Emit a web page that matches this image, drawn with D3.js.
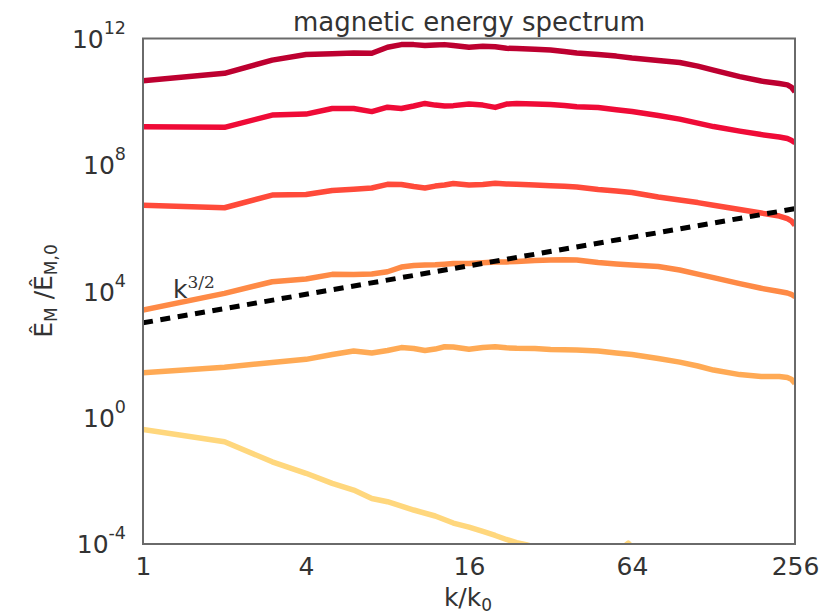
<!DOCTYPE html>
<html>
<head>
<meta charset="utf-8">
<script src="https://cdn.jsdelivr.net/npm/d3@7"></script>
<style>
  body { margin: 0; background: #fff; }
  text { font-family: "DejaVu Sans", sans-serif; fill: #333; }
</style>
</head>
<body>
<svg id="chart" width="839" height="614"></svg>
<script>
// Wavenumbers k/k0 sampled for the first five spectra
const kValues = [1, 2, 3, 4, 5, 6, 7, 8, 9, 10, 11, 12, 13, 14, 16, 18, 20, 22, 24, 28, 32, 36,
                 40, 48, 56, 64, 80, 96, 112, 128, 160, 192, 224, 240, 248, 256];

// Normalised magnetic energy spectra, latest time first
const spectrum1 = [4.6e10, 7.9e10, 2.07e11, 3.1e11, 3.3e11, 3.45e11, 3.4e11, 5.3e11, 6.4e11, 6.4e11,
                   6.0e11, 6.2e11, 6.4e11, 6.0e11, 5.3e11, 5.7e11, 5.5e11, 4.9e11, 4.8e11, 4.6e11,
                   4.3e11, 3.9e11, 3.5e11, 3.1e11, 2.77e11, 2.4e11, 2.0e11, 1.73e11, 1.34e11, 1.0e11,
                   6.2e10, 4.5e10, 3.74e10, 3.4e10, 2.9e10, 2.06e10];
const spectrum2 = [1.61e9, 1.54e9, 3.77e9, 4.05e9, 6.1e9, 6.1e9, 4.86e9, 6.7e9, 6.1e9, 7.3e9,
                   8.8e9, 7.8e9, 7.3e9, 7.5e9, 8.4e9, 7.8e9, 6.6e9, 8.4e9, 8.7e9, 8.4e9,
                   8.1e9, 7.6e9, 6.9e9, 6.5e9, 5.6e9, 4.86e9, 3.63e9, 2.81e9, 2.1e9, 1.63e9,
                   1.17e9, 9.1e8, 7.6e8, 6.8e8, 6.0e8, 5.0e8];
const spectrum3 = [5.3e6, 4.4e6, 1.11e7, 1.16e7, 1.54e7, 1.68e7, 1.85e7, 2.42e7, 2.4e7, 2.06e7,
                   1.85e7, 2.13e7, 2.3e7, 2.56e7, 2.3e7, 2.4e7, 2.6e7, 2.5e7, 2.42e7, 2.3e7,
                   2.18e7, 2.1e7, 1.98e7, 1.65e7, 1.48e7, 1.33e7, 9.6e6, 7.7e6, 6.4e6, 5.3e6,
                   3.85e6, 2.99e6, 2.4e6, 2.0e6, 1.7e6, 1.24e6];
const spectrum4 = [2540, 8600, 2.0e4, 2.43e4, 3.43e4, 3.4e4, 3.5e4, 4.14e4, 5.83e4, 6.5e4,
                   6.75e4, 6.9e4, 7.2e4, 7.5e4, 7.5e4, 8.0e4, 8.4e4, 8.5e4, 8.7e4, 9.4e4,
                   9.7e4, 1.0e5, 9.7e4, 8.1e4, 7.3e4, 6.75e4, 6.05e4, 4.69e4, 3.5e4, 2.71e4,
                   1.75e4, 1.24e4, 9.8e3, 8.8e3, 8.0e3, 6.7e3];
const spectrum5 = [26.4, 39, 56, 70, 99, 128, 111, 133, 165, 154,
                   133, 148, 175, 172, 145, 165, 175, 162, 156, 154,
                   143, 140, 138, 128, 111, 99, 74, 57, 43, 32,
                   23, 20, 20, 18.6, 16.5, 12.2];

// Initial spectrum, sampled separately
const kInitial = [1, 2, 3, 4, 5, 6, 7, 8, 10, 12, 14, 16, 18, 20, 22, 24, 26, 28, 32, 40,
                  48, 56, 60, 62, 64, 72, 96, 128, 192, 256];
const spectrum6 = [0.42, 0.173, 0.040, 0.0173, 0.0083, 0.0051, 0.00275, 0.00218, 0.00119, 7.7e-4,
                   4.6e-4, 3.4e-4, 2.49e-4, 1.86e-4, 1.39e-4, 1.11e-4, 9.5e-5, 8e-5, 6e-5, 5e-5,
                   5e-5, 6e-5, 8.5e-5, 1.06e-4, 8e-5, 4e-5, 2e-5, 1e-5, 5e-6, 2e-6];

const seriesColors = ["#bd0030", "#ef0b37", "#ff4a3a", "#fe8a46", "#ffaa55", "#ffd77d"];

// Power-law reference k^{3/2}
const kRef = [1, 256];
const eRef = [1.0e3, 4.1e6];

// Axis ticks
const kTicks = [1, 4, 16, 64, 256];
const eTicks = [1e12, 1e8, 1e4, 1e0, 1e-4];
const eTickExponents = ["12", "8", "4", "0", "-4"];

const svg = d3.select("#chart");
const plotLeft = 143, plotRight = 795, plotTop = 38.5, plotBottom = 544;

const x = d3.scaleLog().base(2).domain([1, 256]).range([plotLeft, plotRight]);
const y = d3.scaleLog().domain([1e-4, 1e12]).range([plotBottom, plotTop]);

svg.append("defs").append("clipPath").attr("id", "plot-clip")
  .append("rect").attr("x", plotLeft).attr("y", plotTop)
  .attr("width", plotRight - plotLeft).attr("height", plotBottom - plotTop);

const plot = svg.append("g").attr("clip-path", "url(#plot-clip)");

const line = d3.line().x(d => x(d[0])).y(d => y(d[1]));

const allSeries = [
  { k: kValues, e: spectrum1 },
  { k: kValues, e: spectrum2 },
  { k: kValues, e: spectrum3 },
  { k: kValues, e: spectrum4 },
  { k: kValues, e: spectrum5 },
  { k: kInitial, e: spectrum6 }
];

allSeries.forEach((s, i) => {
  plot.append("path")
    .datum(s.k.map((k, j) => [k, s.e[j]]))
    .attr("d", line)
    .attr("fill", "none")
    .attr("stroke", seriesColors[i])
    .attr("stroke-width", 5.5)
    .attr("stroke-linejoin", "round");
});

plot.append("path")
  .datum(kRef.map((k, j) => [k, eRef[j]]))
  .attr("d", line)
  .attr("fill", "none")
  .attr("stroke", "#000")
  .attr("stroke-width", 5)
  .attr("stroke-dasharray", "10,7.6");

// Frame
svg.append("rect")
  .attr("x", plotLeft).attr("y", plotTop)
  .attr("width", plotRight - plotLeft).attr("height", plotBottom - plotTop)
  .attr("fill", "none").attr("stroke", "#6a6a6a").attr("stroke-width", 2);

// x axis
const xAxis = svg.append("g")
  .attr("transform", `translate(0,${plotBottom})`)
  .call(d3.axisBottom(x).tickValues(kTicks).tickFormat(d3.format("d")).tickSize(0).tickPadding(13));
xAxis.select(".domain").remove();
xAxis.selectAll("text").attr("font-size", 25).attr("fill", "#333")
  .attr("font-family", "DejaVu Sans, sans-serif");

// y axis with power-of-ten labels
const yAxis = svg.append("g")
  .attr("transform", `translate(${plotLeft},0)`)
  .call(d3.axisLeft(y).tickValues(eTicks).tickSize(0).tickPadding(17));
yAxis.select(".domain").remove();
yAxis.selectAll("text").each(function(d, i) {
  const t = d3.select(this);
  t.text(null).attr("font-size", 25).attr("fill", "#333").attr("dy", "0.35em")
    .attr("font-family", "DejaVu Sans, sans-serif");
  t.append("tspan").text("10");
  t.append("tspan").attr("font-size", 17.5).attr("dy", -14).text(eTickExponents[i]);
});

// Title
svg.append("text")
  .attr("x", (plotLeft + plotRight) / 2).attr("y", 31)
  .attr("text-anchor", "middle").attr("font-size", 26)
  .text("magnetic energy spectrum");

// x label
const xl = svg.append("text")
  .attr("x", 468).attr("y", 606)
  .attr("text-anchor", "middle").attr("font-size", 25);
xl.append("tspan").text("k/k");
xl.append("tspan").attr("font-size", 17).attr("dy", 5).text("0");

// y label
const yl = svg.append("text")
  .attr("transform", "translate(52,291) rotate(-90)")
  .attr("text-anchor", "middle").attr("font-size", 25);
yl.append("tspan").text("Ê");
yl.append("tspan").attr("font-size", 17).attr("dy", 5).text("M");
yl.append("tspan").attr("dy", -5).text(" /");
yl.append("tspan").text("Ê");
yl.append("tspan").attr("font-size", 17).attr("dy", 5).text("M,0");

// Power-law annotation
const ann = svg.append("text")
  .attr("x", 173).attr("y", 298).attr("font-size", 25);
ann.append("tspan").text("k");
ann.append("tspan").attr("font-size", 17).attr("dy", -10)
  .attr("font-family", "DejaVu Serif, serif").text("3/2");
</script>
</body>
</html>
